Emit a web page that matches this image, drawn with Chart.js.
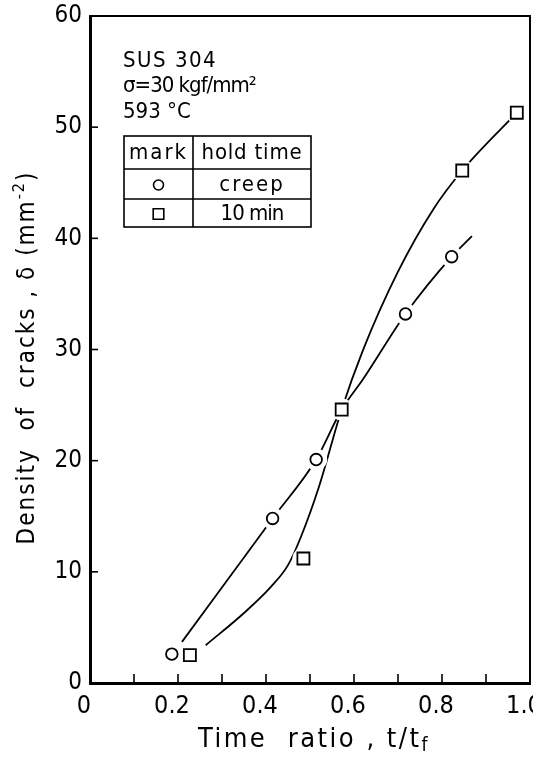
<!DOCTYPE html>
<html>
<head>
<meta charset="utf-8">
<script src="https://cdn.jsdelivr.net/npm/chart.js@4.4.0/dist/chart.umd.min.js"></script>
<style>
  html, body { margin: 0; padding: 0; background: #fff; overflow: hidden; }
  /* a little wider than the window so the 1.0 label runs off the edge like the scan */
  #wrap { width: 541px; height: 762px; }
</style>
</head>
<body>
<div id="wrap"><canvas id="crackChart"></canvas></div>
<script>
// Marks
const creepX = [0.186, 0.415, 0.514, 0.717, 0.822];
const creepY = [2.6, 14.8, 20.1, 33.2, 38.35];
const holdX = [0.227, 0.485, 0.572, 0.846, 0.970];
const holdY = [2.5, 11.2, 24.6, 46.1, 51.3];

// Hand drawn fit lines
const creepCurveX = [0.209, 0.415, 0.514, 0.572, 0.620, 0.717, 0.822, 0.868];
const creepCurveY = [3.7, 14.8, 20.1, 24.6, 27.3, 33.2, 38.35, 40.2];
const holdCurveX = [0.263, 0.350, 0.410, 0.450, 0.480, 0.520, 0.572, 0.620, 0.700, 0.780, 0.846, 0.970];
const holdCurveY = [3.4, 6.3, 8.6, 10.6, 13.2, 17.6, 24.6, 29.9, 37.0, 42.6, 46.1, 51.3];

const xTickValues = [0, 0.2, 0.4, 0.6, 0.8, 1.0];
const xTickLabels = ['0', '0.2', '0.4', '0.6', '0.8', '1.0'];
const yTickLabels = ['0', '10', '20', '30', '40', '50', '60'];

const noteLines = ['SUS 304', 'σ=30 kgf/mm²', '593 °C'];
const legendHead = ['mark', 'hold time'];
const legendRows = [['circle', 'creep'], ['rect', '10 min']];

const xTitle = ['Time  ratio , t/t', 'f'];
const yTitle = ['Density  of  cracks , δ (mm', '-2', ')'];

const condensed = '"DejaVu Sans Condensed", "Liberation Sans Narrow", "DejaVu Sans", sans-serif';

function toPoints(xs, ys) {
    return xs.map((x, i) => ({ x: x, y: ys[i] }));
}

const frameAndText = {
    id: 'frameAndText',
    afterDraw(chart) {
        const ctx = chart.ctx;
        const area = chart.chartArea;
        const xs = chart.scales.x;
        const ys = chart.scales.y;
        ctx.save();
        ctx.strokeStyle = '#000';
        ctx.fillStyle = '#000';

        // box round the plot
        ctx.lineWidth = 2;
        ctx.strokeRect(area.left, area.top, area.right - area.left, area.bottom - area.top);

        // tick marks point inwards
        ctx.lineWidth = 1.6;
        xs.ticks.forEach(t => {
            const px = xs.getPixelForValue(t.value);
            ctx.beginPath();
            ctx.moveTo(px, area.bottom);
            ctx.lineTo(px, area.bottom - 9);
            ctx.stroke();
        });
        ys.ticks.forEach(t => {
            const py = ys.getPixelForValue(t.value);
            ctx.beginPath();
            ctx.moveTo(area.left, py);
            ctx.lineTo(area.left + 8, py);
            ctx.stroke();
        });

        // x title with subscript
        ctx.textBaseline = 'alphabetic';
        ctx.textAlign = 'left';
        ctx.letterSpacing = '2.5px';
        ctx.font = '27px ' + condensed;
        const xw = ctx.measureText(xTitle[0]).width;
        ctx.font = '19px ' + condensed;
        const xw2 = ctx.measureText(xTitle[1]).width;
        const sx = (area.left + area.right) / 2 + 4 - (xw + xw2) / 2;
        ctx.font = '27px ' + condensed;
        ctx.fillText(xTitle[0], sx, 747);
        ctx.font = '19px ' + condensed;
        ctx.fillText(xTitle[1], sx + xw, 751);

        // y title, rotated, with superscript
        ctx.save();
        ctx.translate(34, (area.top + area.bottom) / 2 + 8);
        ctx.rotate(-Math.PI / 2);
        ctx.letterSpacing = '2px';
        ctx.font = '24px ' + condensed;
        const w0 = ctx.measureText(yTitle[0]).width;
        const w2 = ctx.measureText(yTitle[2]).width;
        ctx.font = '16px ' + condensed;
        const w1 = ctx.measureText(yTitle[1]).width;
        const ty = -(w0 + w1 + w2) / 2;
        ctx.font = '24px ' + condensed;
        ctx.fillText(yTitle[0], ty, 0);
        ctx.font = '16px ' + condensed;
        ctx.fillText(yTitle[1], ty + w0, -10);
        ctx.font = '24px ' + condensed;
        ctx.fillText(yTitle[2], ty + w0 + w1, 0);
        ctx.restore();

        // specimen note
        const noteSpacing = ['1.5px', '-1px', '0px'];
        ctx.font = '22px ' + condensed;
        ctx.textBaseline = 'middle';
        noteLines.forEach((line, i) => {
            ctx.letterSpacing = noteSpacing[i];
            ctx.fillText(line, area.left + 33, area.top + 45 + i * 25.5);
        });

        // legend table
        const tl = area.left + 34, tr = area.left + 221, tm = area.left + 103;
        const rowsY = [area.top + 120, area.top + 153, area.top + 183, area.top + 211];
        ctx.lineWidth = 1.6;
        ctx.strokeRect(tl, rowsY[0], tr - tl, rowsY[3] - rowsY[0]);
        ctx.beginPath();
        ctx.moveTo(tl, rowsY[1]); ctx.lineTo(tr, rowsY[1]);
        ctx.moveTo(tl, rowsY[2]); ctx.lineTo(tr, rowsY[2]);
        ctx.moveTo(tm, rowsY[0]); ctx.lineTo(tm, rowsY[3]);
        ctx.stroke();
        ctx.textAlign = 'center';
        ctx.letterSpacing = '2px';
        ctx.fillText(legendHead[0], (tl + tm) / 2, (rowsY[0] + rowsY[1]) / 2 + 1);
        ctx.letterSpacing = '0.8px';
        ctx.fillText(legendHead[1], (tm + tr) / 2, (rowsY[0] + rowsY[1]) / 2 + 1);
        const rowSpacing = ['2px', '-1px'];
        legendRows.forEach((row, i) => {
            const cy = (rowsY[i + 1] + rowsY[i + 2]) / 2 + 1;
            ctx.lineWidth = 1.6;
            ctx.fillStyle = '#fff';
            Chart.helpers.drawPoint(ctx, {
                pointStyle: row[0],
                radius: row[0] === 'rect' ? 7.5 : 5,
                rotation: 0,
                borderWidth: 1.6
            }, (tl + tm) / 2, cy);
            ctx.fillStyle = '#000';
            ctx.letterSpacing = rowSpacing[i];
            ctx.fillText(row[1], (tm + tr) / 2, cy);
        });
        ctx.restore();
    }
};

const ctx = document.getElementById('crackChart').getContext('2d');
new Chart(ctx, {
    type: 'scatter',
    data: {
        datasets: [
            {
                label: 'creep',
                data: toPoints(creepX, creepY),
                pointStyle: 'circle',
                pointRadius: 5.8,
                pointBorderWidth: 1.8,
                pointBorderColor: '#000',
                pointBackgroundColor: '#fff',
                order: 0
            },
            {
                label: '10 min',
                data: toPoints(holdX, holdY),
                pointStyle: 'rect',
                pointRadius: 8.5,
                pointBorderWidth: 1.8,
                pointBorderColor: '#000',
                pointBackgroundColor: '#fff',
                order: 0
            },
            {
                label: 'gap',
                data: toPoints(creepX.concat(holdX), creepY.concat(holdY)),
                pointStyle: 'circle',
                pointRadius: 11,
                pointBorderWidth: 0,
                pointBackgroundColor: '#fff',
                order: 1
            },
            {
                label: 'creep line',
                data: toPoints(creepCurveX, creepCurveY),
                showLine: true,
                cubicInterpolationMode: 'monotone',
                borderColor: '#000',
                borderWidth: 1.8,
                pointRadius: 0,
                order: 2
            },
            {
                label: '10 min line',
                data: toPoints(holdCurveX, holdCurveY),
                showLine: true,
                cubicInterpolationMode: 'monotone',
                borderColor: '#000',
                borderWidth: 1.8,
                pointRadius: 0,
                order: 2
            }
        ]
    },
    options: {
        responsive: true,
        maintainAspectRatio: false,
        animation: false,
        layout: { padding: { top: 16, right: 0, bottom: 0, left: 0 } },
        plugins: {
            legend: { display: false },
            tooltip: { enabled: false }
        },
        scales: {
            x: {
                type: 'linear',
                min: 0,
                max: 1,
                grid: { display: false, drawTicks: false },
                border: { display: true, color: '#000', width: 3 },
                ticks: {
                    stepSize: 0.1,
                    padding: 8,
                    labelOffset: -6,
                    color: '#000',
                    font: { size: 25, family: condensed },
                    callback: v => {
                        const i = xTickValues.findIndex(t => Math.abs(t - v) < 1e-6);
                        return i >= 0 ? xTickLabels[i] : '';
                    }
                },
                afterFit: s => { s.height = 79; s.paddingLeft = 0; s.paddingRight = 0; }
            },
            y: {
                type: 'linear',
                min: 0,
                max: 60,
                grid: { display: false, drawTicks: false },
                border: { display: true, color: '#000', width: 3 },
                ticks: {
                    stepSize: 10,
                    padding: 8,
                    color: '#000',
                    font: { size: 24, family: condensed },
                    callback: v => yTickLabels[Math.round(v / 10)]
                },
                afterFit: s => { s.width = 90; s.paddingTop = 0; s.paddingBottom = 0; }
            }
        }
    },
    plugins: [frameAndText]
});
</script>
</body>
</html>
